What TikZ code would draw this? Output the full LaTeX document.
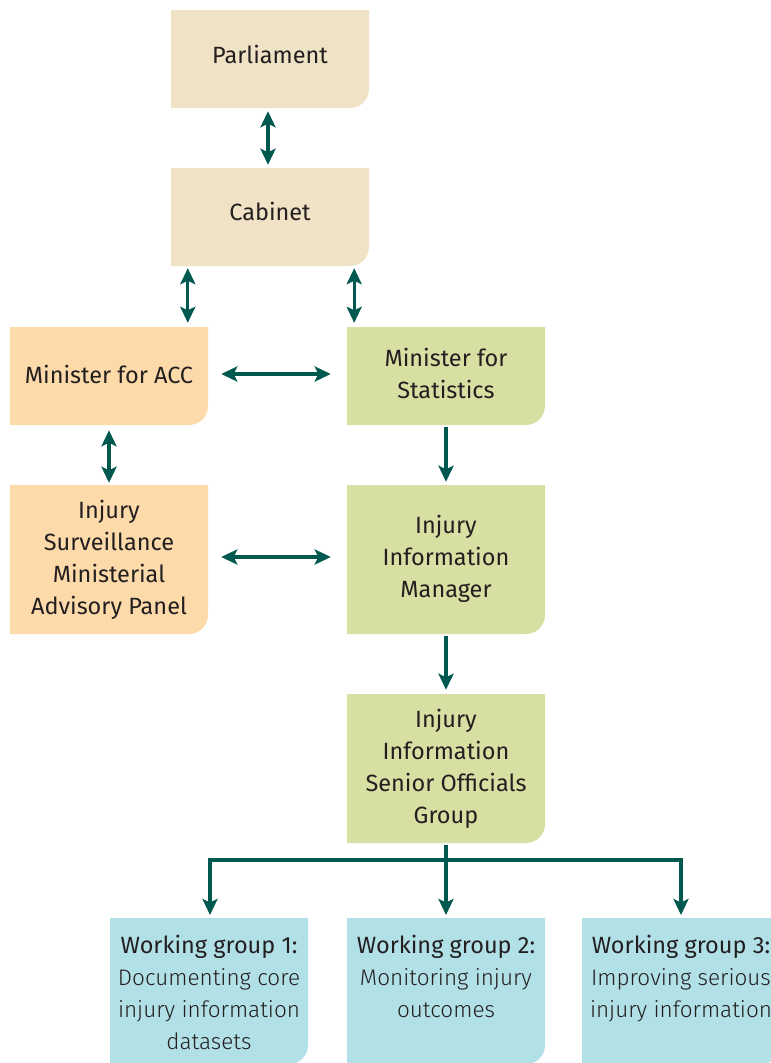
\documentclass[tikz,border=0pt]{standalone}
\usepackage{fontspec}
\setmainfont{Fira Sans}
\newfontfamily\lightfont{Fira Sans Light}
\usetikzlibrary{arrows.meta}
\definecolor{tanc}{HTML}{F0E2C4}
\definecolor{peachc}{HTML}{FDDAA9}
\definecolor{greenc}{HTML}{D7DFA2}
\definecolor{bluec}{HTML}{B2E0E7}
\definecolor{arrc}{HTML}{00594F}
\definecolor{txtc}{HTML}{231F20}
\tikzset{
  box/.style={minimum width=198pt, minimum height=#1, inner sep=0pt, align=center,
    text=txtc, font=\fontsize{23.5}{32}\selectfont},
  boxfill/.style={path picture={\fill[#1] (path picture bounding box.north west) -- (path picture bounding box.north east) [rounded corners=19pt] -- (path picture bounding box.south east) [sharp corners] -- (path picture bounding box.south west) -- cycle;}},
  wgtext/.style={text=txtc, font=\fontsize{23.5}{32}\selectfont, align=center, anchor=north, inner sep=0pt},
  conn/.style={draw=arrc, line width=3.1pt},
  dbl/.style={conn, {Stealth[length=16pt,width=15pt,inset=3.5pt]}-{Stealth[length=16pt,width=15pt,inset=3.5pt]}},
  sgl/.style={conn, -{Stealth[length=16pt,width=15pt,inset=3.5pt]}},
}
\newcommand{\lt}[1]{{\lightfont\fontsize{22.5}{32}\selectfont #1}}
\begin{document}
\begin{tikzpicture}[x=1pt,y=-1pt]
\useasboundingbox (0,0) rectangle (771,1063);
\begin{scope}
\clip (0,0) rectangle (771,1063);
\node[box=98pt, boxfill=tanc] (P) at (270,59) {\raisebox{10pt}{Parliament}};
\node[box=98pt, boxfill=tanc] (C) at (270,217) {\raisebox{11pt}{Cabinet}};
\node[box=98pt, boxfill=peachc] (A) at (109,376) {\raisebox{4pt}{Minister for ACC}};
\node[box=98pt, boxfill=greenc] (S) at (446,376) {\raisebox{5pt}{\begin{tabular}{@{}c@{}}Minister for\\Statistics\end{tabular}}};
\node[box=149pt, boxfill=peachc] (M) at (109,559.5) {Injury\\Surveillance\\Ministerial\\Advisory Panel};
\node[box=149pt, boxfill=greenc] (I) at (446,559.5) {\raisebox{6pt}{\begin{tabular}{@{}c@{}}Injury\\Information\\Manager\end{tabular}}};
\node[box=149pt, boxfill=greenc] (G) at (446,768.5) {Injury\\Information\\Senior Officials\\Group};
\node[box=146pt, boxfill=bluec, anchor=north] (W1) at (209,918) {};
\node[box=146pt, boxfill=bluec, anchor=north] (W2) at (446,918) {};
\node[box=146pt, boxfill=bluec, anchor=north] (W3) at (681,918) {};
\node[wgtext] (T1) at ([yshift=-17pt]W1.north) {Working group 1:\\\lt{Documenting core}\\\lt{injury information}\\\lt{datasets}};
\node[wgtext] (T2) at ([yshift=-17pt]W2.north) {Working group 2:\\\lt{Monitoring injury}\\\lt{outcomes}};
\node[wgtext] (T3) at ([yshift=-17pt]W3.north) {Working group 3:\\\lt{Improving serious}\\\lt{injury information}};
\end{scope}
\draw[dbl, shorten <=3pt, shorten >=3pt] ([xshift=-2pt]P.south) -- ([xshift=-2pt]C.north);
\draw[dbl, shorten <=2pt, shorten >=4pt] ([xshift=17pt]C.south west) -- ([xshift=17pt]C.south west |- A.north);
\draw[dbl, shorten <=2pt, shorten >=4pt] ([xshift=-15pt]C.south east) -- ([xshift=-15pt]C.south east |- S.north);
\draw[dbl, shorten <=13pt, shorten >=16pt] ([yshift=2pt]A.east) -- ([yshift=2pt]S.west);
\draw[dbl, shorten <=5pt, shorten >=2pt] (A.south) -- (M.north);
\draw[sgl, shorten <=2pt, shorten >=3pt] (S.south) -- (I.north);
\draw[dbl, shorten <=13pt, shorten >=16pt] ([yshift=2.5pt]M.east) -- ([yshift=2.5pt]I.west);
\draw[sgl, shorten <=2pt, shorten >=4pt] (I.south) -- (G.north);
\coordinate (J) at (446,860);
\draw[conn, shorten <=2pt] (G.south) -- (J);
\draw[sgl, shorten >=3pt] (J) -- (W2.north);
\draw[sgl, shorten >=3pt, line join=miter] (J) -| ([xshift=1pt]W1.north);
\draw[sgl, shorten >=3pt, line join=miter] (J) -| (W3.north);
\end{tikzpicture}
\end{document}
